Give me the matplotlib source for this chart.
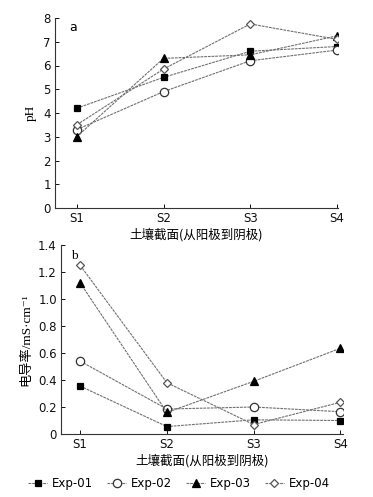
import matplotlib
matplotlib.use("Agg")
import matplotlib.pyplot as plt
from matplotlib.lines import Line2D

plt.rcParams['font.family'] = ['DejaVu Sans', 'Noto Sans CJK SC']

sections = ["S1", "S2", "S3", "S4"]
series_names = ["Exp-01", "Exp-02", "Exp-03", "Exp-04"]
ph_exp01 = [4.2, 5.5, 6.6, 6.8]
ph_exp02 = [3.3, 4.9, 6.2, 6.65]
ph_exp03 = [3.0, 6.3, 6.45, 7.25]
ph_exp04 = [3.5, 5.85, 7.75, 7.1]
ec_exp01 = [0.355, 0.055, 0.105, 0.10]
ec_exp02 = [0.54, 0.185, 0.20, 0.165]
ec_exp03 = [1.12, 0.16, 0.39, 0.635]
ec_exp04 = [1.25, 0.38, 0.07, 0.235]
ph_ticks = [0, 1, 2, 3, 4, 5, 6, 7, 8]
ec_ticks = [0, 0.2, 0.4, 0.6, 0.8, 1.0, 1.2, 1.4]
ec_ticklabels = ["0", "0.2", "0.4", "0.6", "0.8", "1.0", "1.2", "1.4"]
xlabel = "土壤截面(从阳极到阴极)"

styles = [
    dict(marker='s', mfc='black', mec='black'),
    dict(marker='o', mfc='white', mec='#333333'),
    dict(marker='^', mfc='black', mec='black'),
    dict(marker='D', mfc='white', mec='#555555'),
]
msizes = [5, 6, 6, 4.5]

fig = plt.figure(figsize=(3.73, 4.97), dpi=100)
W, H = 373, 497
ax1 = fig.add_axes([55 / W, 1 - 208 / H, (338 - 55) / W, (208 - 18) / H])
ax2 = fig.add_axes([61 / W, 1 - 434 / H, (343 - 61) / W, (434 - 245) / H])

x = [1, 2, 3, 4]
line_kw = dict(color='#707070', lw=0.8, ls=(0, (2.5, 0.8)))

for ax, data in ((ax1, [ph_exp01, ph_exp02, ph_exp03, ph_exp04]),
                 (ax2, [ec_exp01, ec_exp02, ec_exp03, ec_exp04])):
    for i, ys in enumerate(data):
        ax.plot(x, ys, ms=msizes[i], mew=0.9, zorder=3 + i, **line_kw, **styles[i])
    ax.spines['top'].set_visible(False)
    ax.spines['right'].set_visible(False)
    for s in ('left', 'bottom'):
        ax.spines[s].set_linewidth(0.8)
        ax.spines[s].set_color('#333333')
    ax.set_xticks(x)
    ax.set_xticklabels(sections)
    ax.tick_params(direction='in', length=3, width=0.7, labelsize=8.5, pad=3, colors='#111111')
    ax.set_xlabel(xlabel, fontsize=9, family=['Noto Sans CJK SC'], labelpad=2)

ax1.set_xlim(0.75, 4.01)
ax1.set_ylim(0, 8)
ax1.set_yticks(ph_ticks)
ax1.set_ylabel("pH", family=['Liberation Serif', 'DejaVu Serif'], fontsize=9.5, labelpad=5)
ax1.text(0.05, 0.985, "a", transform=ax1.transAxes, fontsize=9, va='top')

ax2.set_xlim(0.78, 4.03)
ax2.set_ylim(0, 1.4)
ax2.set_yticks(ec_ticks)
ax2.set_yticklabels(ec_ticklabels)
ax2.set_ylabel("电导率/mS·cm⁻¹", family=['Liberation Serif', 'DejaVu Serif', 'Noto Sans CJK SC'],
               fontsize=9.5, labelpad=4)
ax2.text(0.035, 0.975, "b", transform=ax2.transAxes, fontsize=9.5, va='top',
         family=['Liberation Serif'])

handles = [Line2D([0], [0], ms=msizes[i], mew=0.9, **line_kw, **styles[i]) for i in range(4)]
fig.legend(handles, series_names, loc='center', bbox_to_anchor=(0.48, 1 - 484 / H),
           ncol=4, frameon=False, fontsize=8.5, handlelength=1.6, handletextpad=0.4,
           columnspacing=1.2, borderaxespad=0)

fig.savefig("out.png", dpi=100)
